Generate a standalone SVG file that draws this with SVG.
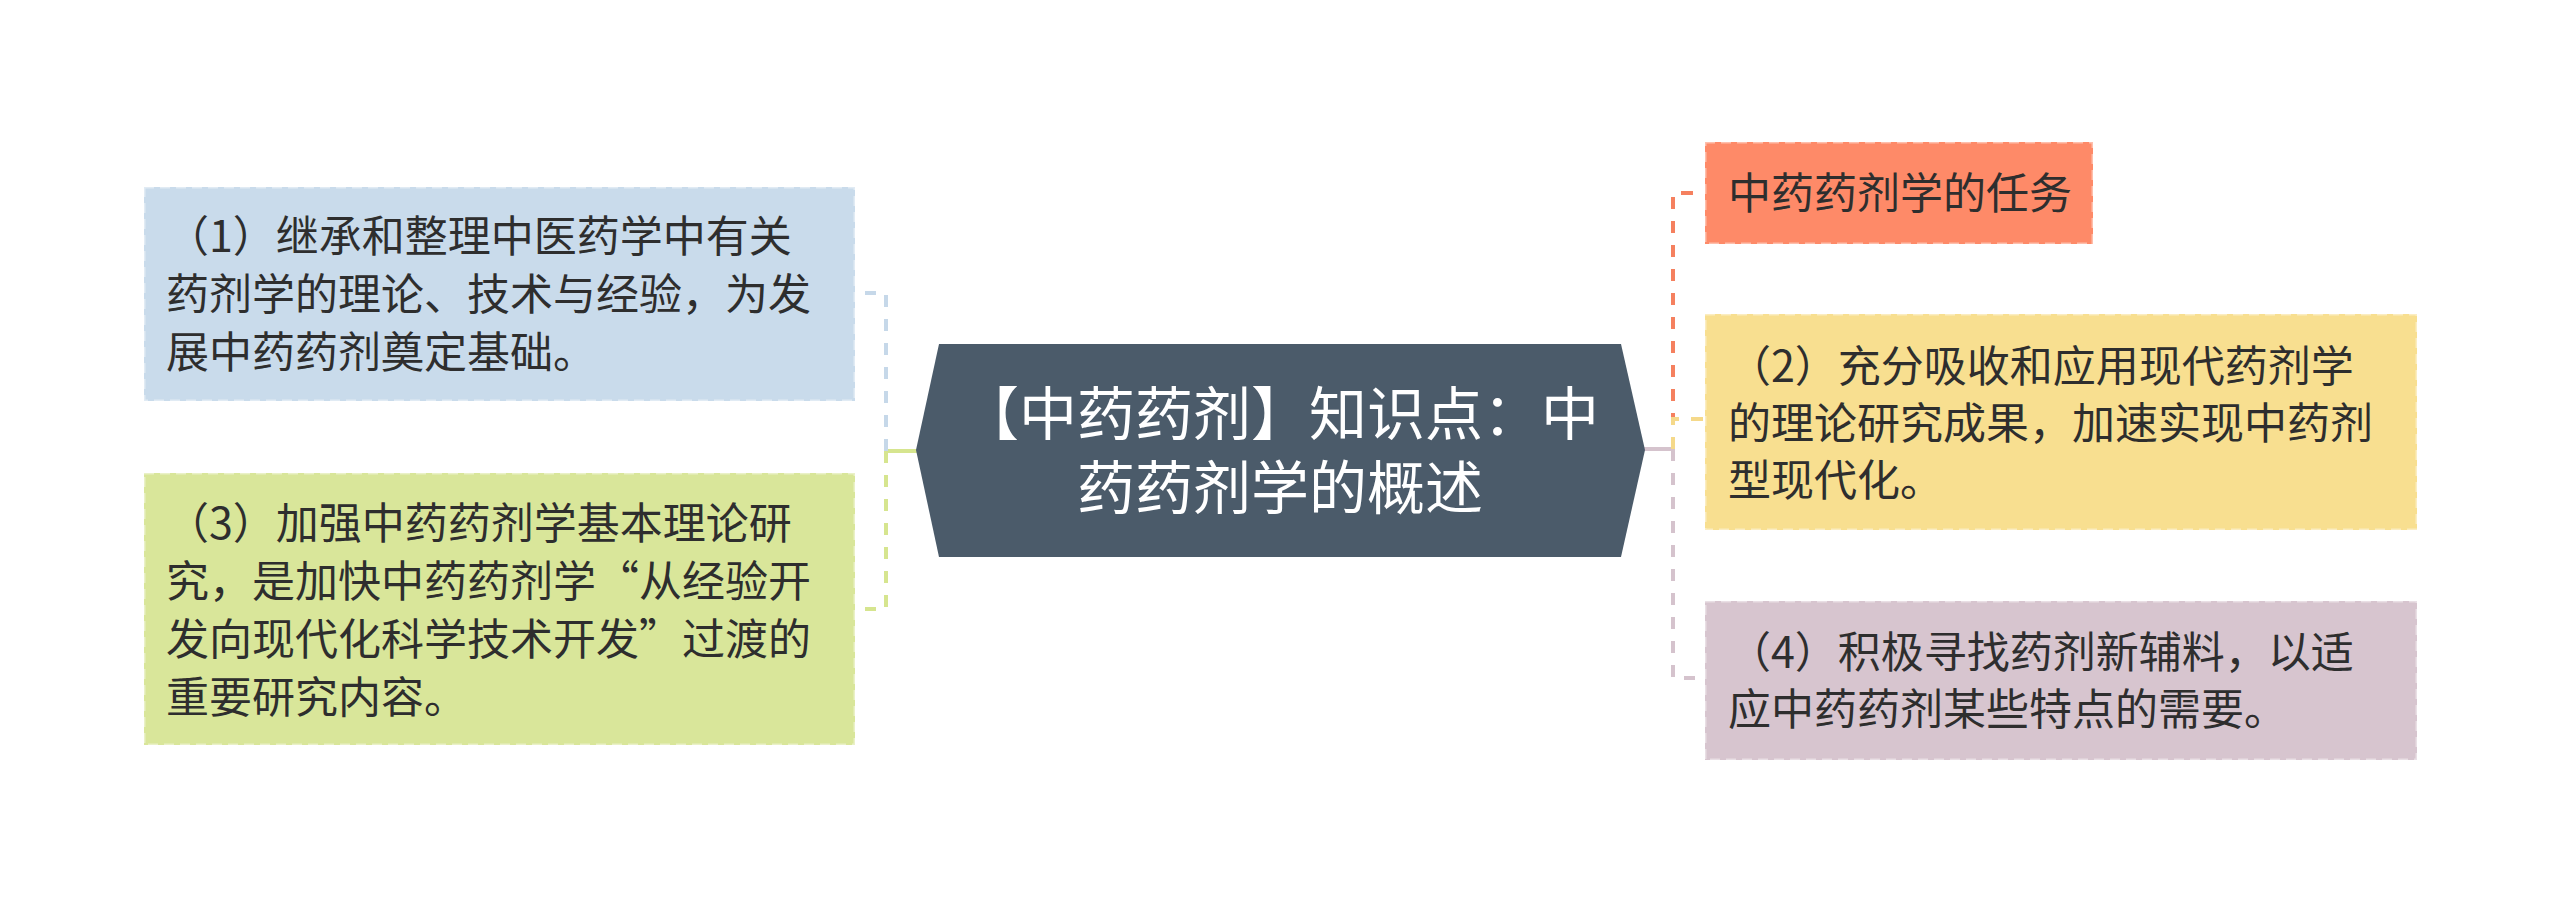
<svg xmlns="http://www.w3.org/2000/svg" width="2560" height="903" viewBox="0 0 2560 903">
<style>
.bx{stroke:#ffffff;stroke-opacity:0.45;stroke-width:3;stroke-dasharray:10 6}
.t{font-family:"Noto Sans CJK SC","Noto Sans",sans-serif;font-size:43px;fill:#2e2e2e}
.ct{font-family:"Noto Sans CJK SC","Noto Sans",sans-serif;font-size:58px;fill:#ffffff;text-anchor:middle}
.cn{fill:none;stroke-width:4}
.d{stroke-dasharray:12 12}
</style>
<rect width="2560" height="903" fill="#ffffff"/>
<g id="connectors">
<path class="cn" d="M917,451 H886" stroke="#D6E58F"/>
<path class="cn d" d="M886,451 V293 H865" stroke="#C6D8E9"/>
<path class="cn d" d="M886,451 V609 H865" stroke="#D6E58F"/>
<path class="cn" d="M1644,449 H1673" stroke="#D5C3CD"/>
<path class="cn d" d="M1673,449 V193 H1694" stroke="#F5805F"/>
<path class="cn d" d="M1673,449 V419 H1705" stroke="#F5D98A"/>
<path class="cn d" d="M1673,449 V678 H1695" stroke="#D5C3CD"/>
</g>
<g id="center">
<polygon points="939,344 1621,344 1645,450 1621,557 939,557 916,450" fill="#4B5B6A"/>
<text class="ct" x="1280" y="435">【中药药剂】知识点：中</text>
<text class="ct" x="1280" y="509">药药剂学的概述</text>
</g>
<g id="n1">
<rect class="bx" x="144" y="187" width="711" height="214" fill="#C9DBEB"/>
<text class="t" x="166" y="252">（1）继承和整理中医药学中有关</text>
<text class="t" x="166" y="310">药剂学的理论、技术与经验，为发</text>
<text class="t" x="166" y="368">展中药药剂奠定基础。</text>
</g>
<g id="n3">
<rect class="bx" x="144" y="473" width="711" height="272" fill="#D9E69A"/>
<text class="t" x="166" y="539">（3）加强中药药剂学基本理论研</text>
<text class="t" x="166" y="597">究，是加快中药药剂学“从经验开</text>
<text class="t" x="166" y="655">发向现代化科学技术开发”过渡的</text>
<text class="t" x="166" y="713">重要研究内容。</text>
</g>
<g id="nA">
<rect class="bx" x="1705" y="142" width="388" height="102" fill="#FE8A68"/>
<text class="t" x="1728" y="209">中药药剂学的任务</text>
</g>
<g id="n2">
<rect class="bx" x="1705" y="314" width="712" height="216" fill="#F8DF90"/>
<text class="t" x="1728" y="382">（2）充分吸收和应用现代药剂学</text>
<text class="t" x="1728" y="439">的理论研究成果，加速实现中药剂</text>
<text class="t" x="1728" y="496">型现代化。</text>
</g>
<g id="n4">
<rect class="bx" x="1705" y="601" width="712" height="159" fill="#D7C5CF"/>
<text class="t" x="1728" y="668">（4）积极寻找药剂新辅料，以适</text>
<text class="t" x="1728" y="725">应中药药剂某些特点的需要。</text>
</g>
</svg>
